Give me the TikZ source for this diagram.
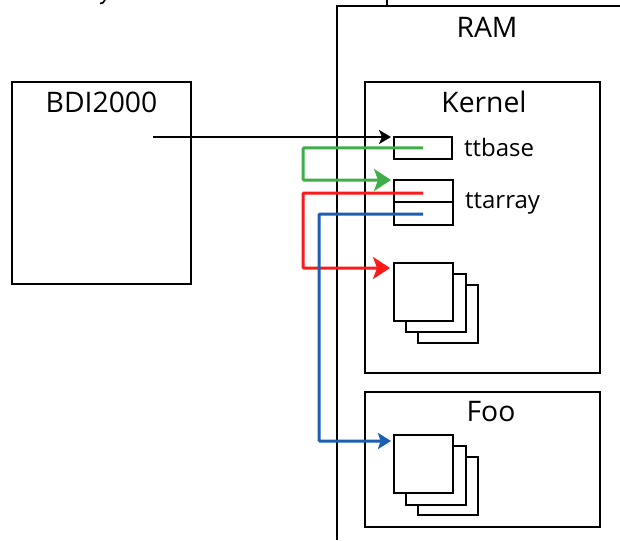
\documentclass[tikz,border=0pt]{standalone}
\usepackage{fontspec}
\setmainfont{Open Sans}
\usetikzlibrary{arrows.meta}
\tikzset{
  box/.style={draw=black,line width=2.9pt,fill=white,inner sep=0pt,outer sep=0pt},
  big/.style={font=\fontsize{28.3}{30}\selectfont,inner sep=0pt},
  small/.style={font=\fontsize{24}{26}\selectfont,inner sep=0pt,anchor=west},
  wire/.style={line width=3pt,rounded corners=1pt,line cap=butt},
  blackwire/.style={line width=2.4pt,-{Stealth[length=12pt,width=14pt,inset=3pt]},shorten >=3pt},
  greenwire/.style={wire,draw=cgreen,-{Stealth[length=17pt,width=22pt,inset=4pt]},shorten >=3pt},
  redwire/.style={wire,draw=cred,-{Stealth[length=17pt,width=22pt,inset=4pt]},shorten >=4pt},
  bluewire/.style={wire,draw=cblue,-{Stealth[length=13pt,width=16pt,inset=2.5pt]},shorten >=3pt},
}
\definecolor{cgreen}{HTML}{3FAE49}
\definecolor{cred}{HTML}{FF1A1A}
\definecolor{cblue}{HTML}{1C5FB0}
\begin{document}
\begin{tikzpicture}[x=1pt,y=-1pt]
\useasboundingbox (0,0) rectangle (620,540);
% RAM outline runs off the picture
\coordinate (ramstub) at (387,0);
\coordinate (ramstubend) at (387,6);
\coordinate (ramtopright) at (620,6);
\coordinate (ramtopleft) at (337,6);
\coordinate (rambottom) at (337,540);
\draw[line width=2.9pt,line join=miter] (ramtopright) -- (ramtopleft) -- (rambottom);
\draw[line width=2pt] (ramstub) -- (ramstubend);
\draw[line width=1.6pt] (100,3.5) .. controls (102,3.8) and (104,2.5) .. (105,0);
\node[big] (ramlabel) at (487,27) {RAM};
% outer boxes
\node[box,minimum width=179pt,minimum height=202pt] (bdi) at (101.5,183) {};
\node[big] (bdilabel) at (101.5,102) {BDI2000};
\node[box,minimum width=235pt,minimum height=291pt] (kernel) at (482.5,227.5) {};
\node[big] (kernellabel) at (484,102) {Kernel};
\node[box,minimum width=235pt,minimum height=135pt] (foo) at (482.5,459.5) {};
\node[big] (foolabel) at (491,412) {Foo};
% table entries
\node[box,minimum width=58pt,minimum height=22pt] (ttbase) at (423,148) {};
\node[small] (ttbaselabel) at (464,148) {ttbase};
\node[box,minimum width=59pt,minimum height=22pt] (ttarrayA) at (423.5,191) {};
\node[box,minimum width=59pt,minimum height=23pt] (ttarrayB) at (423.5,213.5) {};
\node[small] (ttarraylabel) at (465,203) {ttarray};
% page stacks
\node[box,minimum width=60pt,minimum height=58pt] (ka3) at (448,314) {};
\node[box,minimum width=60pt,minimum height=58pt] (ka2) at (436,303) {};
\node[box,minimum width=59pt,minimum height=58pt] (ka1) at (423.5,292) {};
\node[box,minimum width=60pt,minimum height=58pt] (fo3) at (448,486) {};
\node[box,minimum width=60pt,minimum height=59pt] (fo2) at (436,475.5) {};
\node[box,minimum width=59pt,minimum height=58pt] (fo1) at (423.5,464) {};
% connectors
\coordinate (bdiout) at (153,137);
\coordinate (ttbaseptr) at (423,148);
\coordinate (ttarrayred) at (423,193);
\coordinate (ttarrayblue) at (423,214);
\coordinate (ttbasetarget) at (394,137);
\coordinate (greentarget) at (394,180);
\coordinate (redtarget) at (394,268);
\coordinate (bluetarget) at (394,441);
\draw[blackwire] (bdiout) -- (ttbasetarget);
\draw[greenwire] (ttbaseptr) -| (303,164) |- (greentarget);
\draw[redwire] (ttarrayred) -| (303,230) |- (redtarget);
\draw[bluewire] (ttarrayblue) -| (319,330) |- (bluetarget);
\end{tikzpicture}
\end{document}
